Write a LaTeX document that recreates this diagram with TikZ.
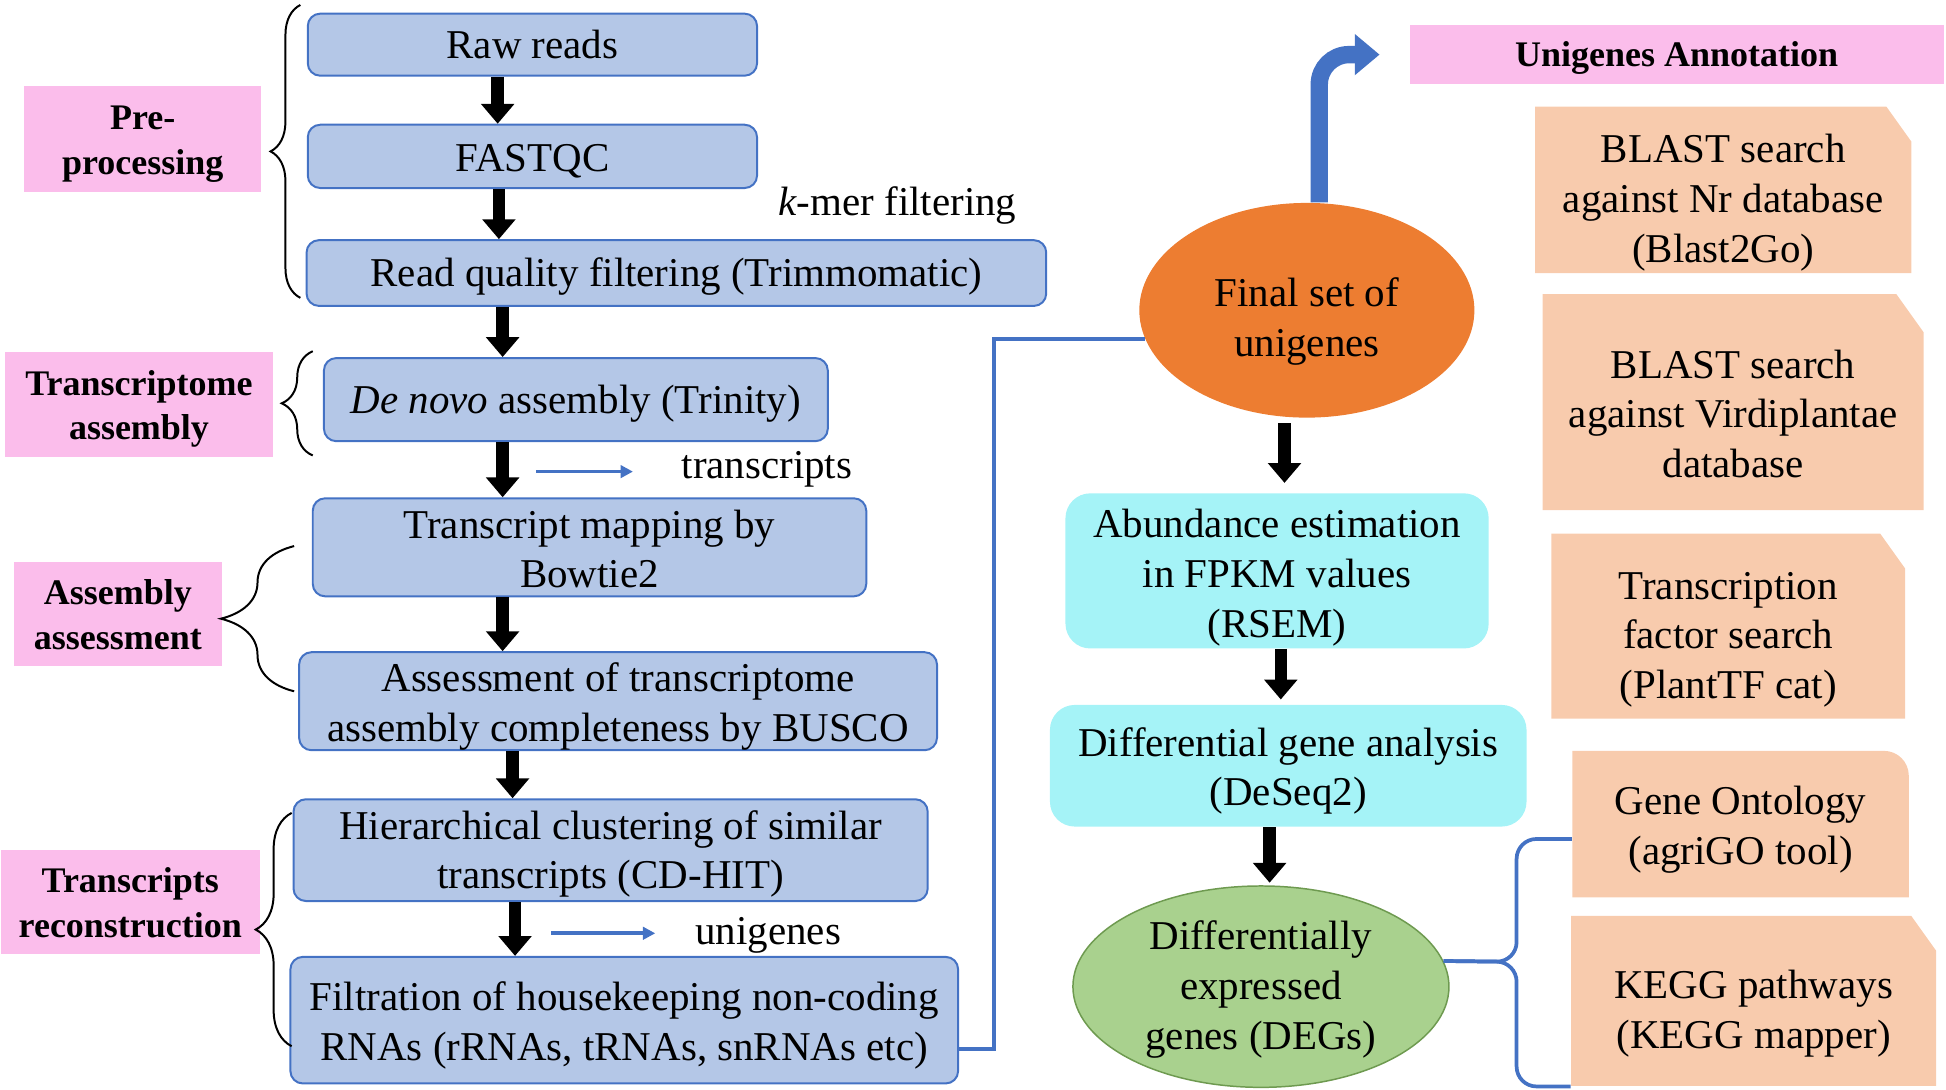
\documentclass[tikz,border=0pt]{standalone}
\usepackage{fontspec}
\setmainfont{Liberation Serif}
\usepackage{tikz}
\usetikzlibrary{calc,arrows.meta,shapes.geometric,decorations.pathreplacing}

\definecolor{boxblue}{HTML}{B4C7E7}
\definecolor{lineblue}{HTML}{4472C4}
\definecolor{labpink}{HTML}{FBBDEB}
\definecolor{peach}{HTML}{F8CBAD}
\definecolor{aqua}{HTML}{A5F3F7}
\definecolor{orng}{HTML}{ED7D31}
\definecolor{leaf}{HTML}{A9D18E}
\definecolor{leafdark}{HTML}{6E9A50}

% strut that pushes the text of a node down by #1
\newcommand{\lowertext}[1]{\rule{0pt}{\dimexpr\fontcharht\font`\l+#1+#1\relax}}

\begin{document}
\begin{tikzpicture}[x=0.5pt, y=-0.5pt,
    every node/.style={font=\fontsize{16.5}{20}\selectfont, align=center, inner sep=0pt},
    stepbox/.style={rectangle, rounded corners=5pt, draw=lineblue, line width=0.8pt, fill=boxblue},
    tag/.style={rectangle, fill=labpink, font=\bfseries\fontsize{14.5}{18}\selectfont},
    aquabox/.style={rectangle, rounded corners=10pt, fill=aqua},
    tool/.style={rectangle, path picture={
        \fill[peach] (path picture bounding box.south west) |- ([xshift=-#1]path picture bounding box.north east)
          -- ([yshift=-1.4*#1]path picture bounding box.north east) -- (path picture bounding box.south east) -- cycle;}},
    toolround/.style={rectangle, path picture={
        \fill[peach] (path picture bounding box.south west) |- ([xshift=-#1]path picture bounding box.north east)
          to[out=0,in=90] ([yshift=-#1]path picture bounding box.north east) -- (path picture bounding box.south east) -- cycle;}},
    blk/.style={line width=5pt, -{Triangle[length=8pt, width=13pt]}},
    sarr/.style={draw=lineblue, line width=1.5pt, -{Triangle[length=5pt, width=5pt]}},
    bline/.style={draw=lineblue, line width=1.5pt},
    bigarr/.style={draw=lineblue, line width=7pt, rounded corners=12pt, -{Triangle[length=10pt, width=16pt]}},
    brc/.style={decorate, decoration={brace, amplitude=#1}, line width=0.8pt}
]
    % Fix the page size
    \useasboundingbox (0,0) rectangle (1568,878);

    % Pipeline steps on the left
    \node[stepbox, minimum width=181pt, minimum height=25pt] (raw) at (429,36) {Raw reads};
    \node[stepbox, minimum width=181pt, minimum height=25.5pt] (fastqc) at (429,126) {\lowertext{2pt}FASTQC};
    \node[stepbox, minimum width=298pt, minimum height=26.5pt] (trim) at (545,220) {\lowertext{2pt}Read quality filtering (Trimmomatic)};
    \node[stepbox, minimum width=203pt, minimum height=33.5pt] (denovo) at (464,322) {\lowertext{2pt}\textit{De novo} assembly (Trinity)};
    \node[stepbox, minimum width=223pt, minimum height=39.5pt] (bowtie) at (475,441) {\lowertext{1pt}Transcript mapping by\\Bowtie2};
    \node[stepbox, minimum width=257pt, minimum height=39.5pt] (busco) at (498,565) {\lowertext{2.5pt}Assessment of transcriptome\\assembly completeness by BUSCO};
    \node[stepbox, minimum width=255.5pt, minimum height=41pt] (cdhit) at (492,685) {\lowertext{2pt}Hierarchical clustering of similar\\transcripts (CD-HIT)};
    \node[stepbox, minimum width=269pt, minimum height=51pt] (filt) at (503,822) {\lowertext{2.5pt}Filtration of housekeeping non-coding\\RNAs (rRNAs, tRNAs, snRNAs etc)};

    % Stage labels
    \node[tag, minimum width=95.5pt, minimum height=42.5pt] (pre) at (115,112) {\lowertext{2pt}Pre-\\processing};
    \node[tag, minimum width=108pt, minimum height=42.5pt] (tra) at (112,326) {\lowertext{2pt}Transcriptome\\assembly};
    \node[tag, minimum width=84pt, minimum height=42pt] (asm) at (95,495) {\lowertext{0.5pt}Assembly\\assessment};
    \node[tag, minimum width=104.5pt, minimum height=42pt] (rec) at (105,727) {\lowertext{0.5pt}Transcripts\\reconstruction};

    % Braces
    \draw[brc=12pt] (242,240) -- (242,4);
    \draw[brc=12.5pt] (252,367) -- (252,283);
    \draw[brc=29.5pt] (237,557) -- (237,440);
    \draw[brc=14.5pt] (235,843) -- (235,655);

    % Black arrows down the left column
    \draw[blk] ([xshift=-14pt]raw.south) -- ([xshift=-14pt]raw.south |- fastqc.north);
    \draw[blk] ([xshift=-13.5pt]fastqc.south) -- ([xshift=-13.5pt]fastqc.south |- trim.north);
    \draw[blk] ([xshift=-29.5pt]denovo.north |- trim.south) -- ([xshift=-29.5pt]denovo.north);
    \draw[blk] ([xshift=-29.5pt]denovo.south) -- ([xshift=-29.5pt]denovo.south |- bowtie.north);
    \draw[blk] ([xshift=-35pt]bowtie.south) -- ([xshift=-35pt]bowtie.south |- busco.north);
    \draw[blk] ([xshift=-39.5pt]cdhit.north |- busco.south) -- ([xshift=-39.5pt]cdhit.north);
    \draw[blk] ([xshift=-38.5pt]cdhit.south) -- ([xshift=-38.5pt]cdhit.south |- filt.north);

    % Side notes
    \node (kmer) at (723,162) {\lowertext{2pt}\textit{k}-mer filtering};
    \node (tlab) at (618,374) {\lowertext{2pt}transcripts};
    \node (ulab) at (619,750) {\lowertext{2pt}unigenes};
    \coordinate (tstart) at (432,380);
    \coordinate (tend) at (510,380);
    \draw[sarr] (tstart) -- (tend);
    \coordinate (ustart) at (444,752);
    \coordinate (uend) at (528,752);
    \draw[sarr] (ustart) -- (uend);

    % Right column
    \node[ellipse, fill=orng, minimum width=135pt, minimum height=86.5pt] (final) at (1053,250) {\lowertext{5pt}Final set of\\unigenes};
    \node[aquabox, minimum width=170.5pt, minimum height=62.5pt] (abund) at (1029,460) {\lowertext{3pt}Abundance estimation\\in FPKM values\\(RSEM)};
    \node[aquabox, minimum width=192pt, minimum height=49pt] (diff) at (1038,617) {\lowertext{2.5pt}Differential gene analysis\\(DeSeq2)};
    \node[ellipse, fill=leaf, draw=leafdark, line width=0.6pt, minimum width=151.5pt, minimum height=81pt] (deg) at (1016,795) {\lowertext{1.5pt}Differentially\\expressed\\genes (DEGs)};

    \draw[blk, shorten <=2pt, shorten >=4pt] ([xshift=-9pt]final.south) -- ([xshift=-9pt]final.south |- abund.north);
    \draw[blk, shorten >=2pt] ([xshift=1.5pt]abund.south) -- ([xshift=1.5pt]abund.south |- diff.north);
    \draw[blk, shorten >=1pt] ([xshift=-7.5pt]diff.south) -- ([xshift=-7.5pt]diff.south |- deg.north);

    % Blue link from the left column
    \draw[bline] ([yshift=-11.5pt]filt.east) -- ++(28,0) |- (final.190);

    % Annotation
    \node[tag, minimum width=215pt, minimum height=24pt] (annot) at (1351,44) {\lowertext{1.5pt}Unigenes Annotation};
    \draw[bigarr] ([xshift=5pt]final.north) |- ([xshift=-12pt]annot.west);

    \node[tool=10pt, minimum width=151.5pt, minimum height=67pt] (nr) at (1388.5,153) {\lowertext{5.5pt}BLAST search\\against Nr database\\(Blast2Go)};
    \node[tool=11pt, minimum width=153.5pt, minimum height=87pt] (vir) at (1396.5,324) {\lowertext{5pt}BLAST search\\against Virdiplantae\\database};
    \node[tool=10pt, minimum width=142.5pt, minimum height=74.5pt] (tf) at (1392.5,504.5) {\lowertext{5.5pt}Transcription\\factor search\\(PlantTF cat)};
    \node[toolround=10pt, minimum width=135.5pt, minimum height=59pt] (go) at (1402.5,664) {\lowertext{2.5pt}Gene Ontology\\(agriGO tool)};
    \node[tool=10pt, minimum width=147pt, minimum height=68.5pt] (kegg) at (1413,806.5) {\lowertext{5.5pt}KEGG pathways\\(KEGG mapper)};

    % Blue brace from DEGs
    \coordinate (brk) at (1222,775);
    \draw[bline, rounded corners=8pt] ([yshift=-6pt]go.west) -| (brk) -- (deg.8);
    \draw[bline, rounded corners=8pt] (kegg.south west) -| (brk) -- (deg.8);
\end{tikzpicture}
\end{document}
